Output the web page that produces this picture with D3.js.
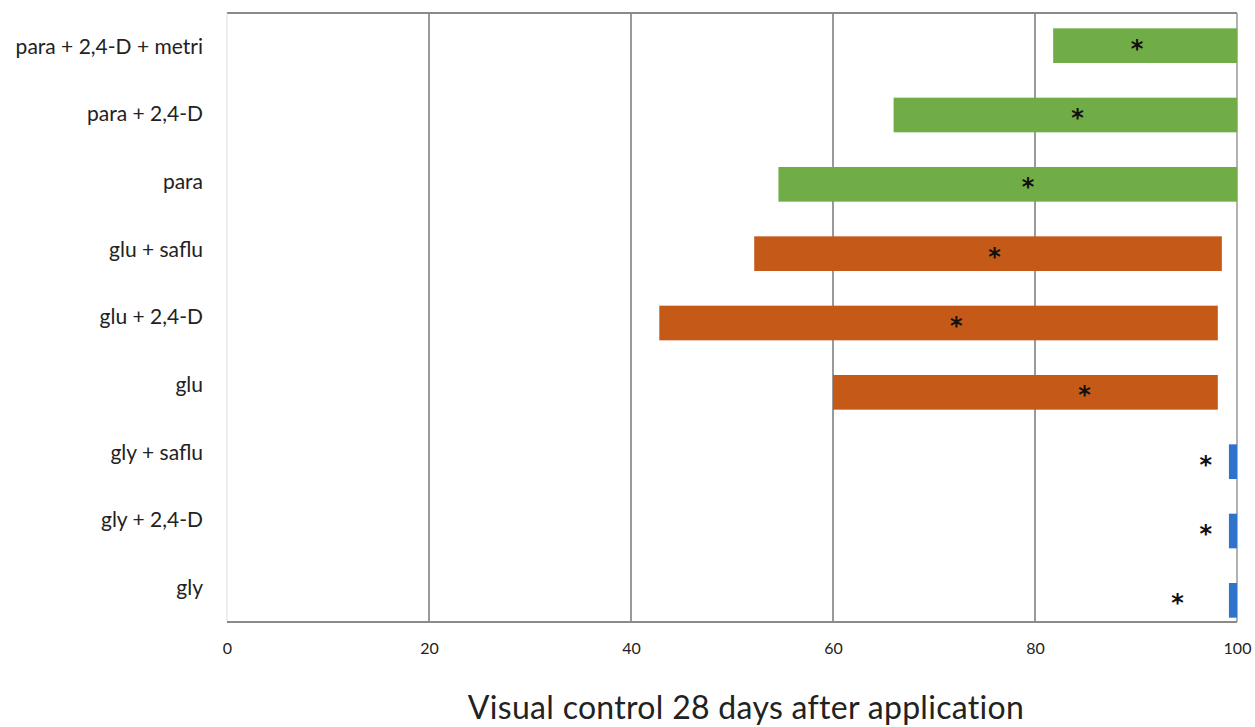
<!DOCTYPE html>
<html>
<head>
<meta charset="utf-8">
<script src="https://cdn.jsdelivr.net/npm/d3@7"></script>
<style>
  body { margin: 0; background: #fff; }
  text { font-family: Lato, "Open Sans", sans-serif; }
</style>
</head>
<body>
<svg id="chart" width="1255" height="727"></svg>
<script>
// treatments, top to bottom
var treatments = ['para + 2,4-D + metri', 'para + 2,4-D', 'para', 'glu + saflu',
                  'glu + 2,4-D', 'glu', 'gly + saflu', 'gly + 2,4-D', 'gly'];
var groups = ['para', 'para', 'para', 'glu', 'glu', 'glu', 'gly', 'gly', 'gly'];
// range of visual control (%) and mean (asterisk)
var minValues  = [81.8, 66.0, 54.6, 52.2, 42.8, 60.0, 99.2, 99.2, 99.2];
var maxValues  = [100, 100, 100, 98.5, 98.1, 98.1, 100, 100, 100];
var meanValues = [90.1, 84.2, 79.3, 76.0, 72.2, 84.9, 96.9, 96.9, 94.1];
var xTicks = [0, 20, 40, 60, 80, 100];
var groupColors = { para: '#70AD47', glu: '#C55A18', gly: '#2F73CC' };

var svg = d3.select('#chart');
var plotLeft = 227, plotRight = 1237, plotTop = 13, plotBottom = 622;

var x = d3.scaleLinear().domain([0, 100]).range([plotLeft, plotRight]);
// labels sit on the plot bands, bars are slightly shifted as in the original
var y = d3.scaleBand().domain(treatments).range([plotTop, plotBottom]);
var yBar = d3.scaleBand().domain(treatments).range([11, 635]).paddingInner(0.5).paddingOuter(0.25);

// vertical gridlines
svg.append('g')
    .selectAll('line')
    .data(xTicks.slice(1, -1))
    .join('line')
    .attr('x1', d => x(d)).attr('x2', d => x(d))
    .attr('y1', plotTop).attr('y2', plotBottom)
    .style('stroke', '#555')
    .style('stroke-width', '1.2px');

// frame
svg.append('line')
    .attr('x1', plotLeft).attr('x2', plotRight).attr('y1', plotTop).attr('y2', plotTop)
    .style('stroke', '#8a8a8a').style('stroke-width', '2px');
svg.append('line')
    .attr('x1', plotRight).attr('x2', plotRight).attr('y1', plotTop).attr('y2', plotBottom)
    .style('stroke', '#999').style('stroke-width', '1.5px');
svg.append('line')
    .attr('x1', plotLeft).attr('x2', plotLeft).attr('y1', plotTop).attr('y2', plotBottom)
    .style('stroke', '#ddd').style('stroke-width', '1px');

// bars
svg.append('g')
    .selectAll('rect')
    .data(treatments)
    .join('rect')
    .attr('x', (d, i) => x(minValues[i]))
    .attr('width', (d, i) => x(maxValues[i]) - x(minValues[i]))
    .attr('y', d => yBar(d))
    .attr('height', yBar.bandwidth())
    .style('fill', (d, i) => groupColors[groups[i]]);

// means
svg.append('g')
    .selectAll('text')
    .data(treatments)
    .join('text')
    .attr('x', (d, i) => x(meanValues[i]))
    .attr('y', d => yBar(d) + yBar.bandwidth() / 2 + 11)
    .attr('text-anchor', 'middle')
    .style('font-size', '24px')
    .style('font-weight', 'bold')
    .style('font-family', '"DejaVu Sans", sans-serif')
    .style('fill', '#111')
    .text('*');

// bottom axis
svg.append('line')
    .attr('x1', plotLeft).attr('x2', plotRight).attr('y1', plotBottom).attr('y2', plotBottom)
    .style('stroke', '#8a8a8a').style('stroke-width', '2px');
var xAxis = svg.append('g')
    .attr('transform', 'translate(0,' + plotBottom + ')')
    .call(d3.axisBottom(x).tickValues(xTicks).tickSize(0).tickPadding(21));
xAxis.select('.domain').remove();
xAxis.selectAll('text')
    .style('font-size', '16px')
    .style('font-family', 'Lato, sans-serif')
    .style('fill', '#222');

// category labels
var yAxis = svg.append('g')
    .attr('transform', 'translate(' + (plotLeft - 24) + ',0)')
    .call(d3.axisLeft(y).tickSize(0).tickPadding(0));
yAxis.select('.domain').remove();
yAxis.selectAll('text')
    .style('font-size', '21px')
    .style('font-family', 'Lato, sans-serif')
    .style('fill', '#222');

// axis title
svg.append('text')
    .attr('x', 746)
    .attr('y', 719)
    .attr('text-anchor', 'middle')
    .style('font-size', '32px')
    .style('letter-spacing', '0.3px')
    .style('fill', '#222')
    .text('Visual control 28 days after application');
</script>
</body>
</html>
